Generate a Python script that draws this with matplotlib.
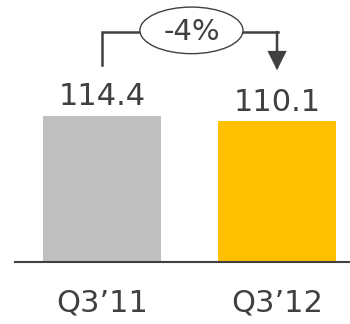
import matplotlib.pyplot as plt
from matplotlib.patches import Ellipse

categories = ["Q3\u201911", "Q3\u201912"]
values = [114.4, 110.1]
colors = ["#BFBFBF", "#FFC000"]
change_label = "-4%"

text_color = "#404040"

fig = plt.figure(figsize=(3.5, 3.24), dpi=100)
ax = fig.add_axes([0, 0, 1, 1])
ax.set_xlim(-0.583, 1.417)
ax.set_ylim(-48.6, 205.3)
ax.axis("off")

x = list(range(len(values)))
ax.bar(x, values, width=0.674, color=colors, zorder=2)
ax.axhline(0, xmin=15 / 350, xmax=1, color=text_color, lw=1.5, zorder=3)

# value labels above each bar
for xi, v in zip(x, values):
    ax.text(xi, v + 8.6, f"{v:.1f}", ha="center", va="baseline",
            fontsize=22, color=text_color)

# category labels below the baseline
for xi, c in zip(x, categories):
    ax.text(xi, -32.5, c, ha="center", va="center",
            fontsize=22, color=text_color)

# bracket arrow from first bar to second, with change in an ellipse
top = 180.3
ex, ey, ew, eh = 0.511, 181.5, 0.589, 36.5
ax.plot([x[0], x[0], ex - ew / 2], [154.4, top, top],
        color=text_color, lw=1.8, solid_joinstyle="miter")
ax.annotate("", xy=(x[1], 150.3), xytext=(x[1], top),
            arrowprops=dict(arrowstyle="-|>,head_length=1.1,head_width=0.55",
                            color=text_color, lw=1.8, shrinkA=0, shrinkB=0,
                            joinstyle="miter"))
ax.plot([ex + ew / 2, x[1] + 0.005], [top, top], color=text_color, lw=1.8,
        solid_joinstyle="miter")
ax.add_patch(Ellipse((ex, ey), ew, eh, facecolor="white",
                     edgecolor=text_color, lw=1.0, zorder=4))
ax.text(ex, top, change_label, ha="center", va="center",
        fontsize=21, color=text_color, zorder=5)

fig.savefig("out.png", dpi=100)
